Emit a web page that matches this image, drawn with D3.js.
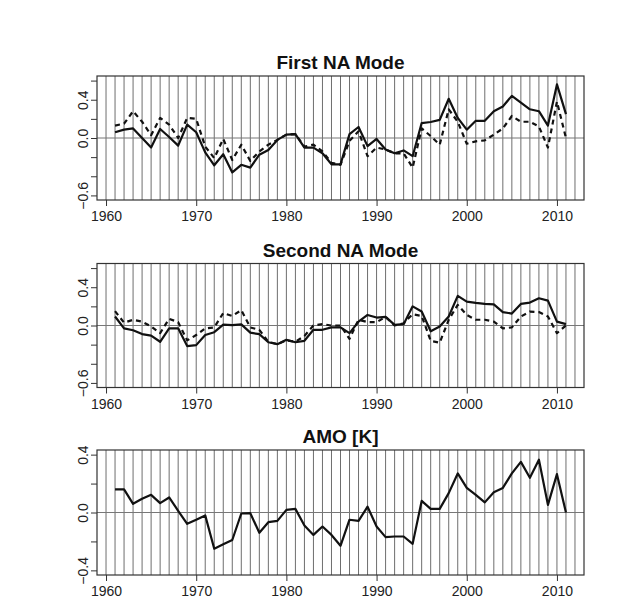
<!DOCTYPE html>
<html>
<head>
<meta charset="utf-8">
<script src="https://cdn.jsdelivr.net/npm/d3@7"></script>
<style>
  body { margin: 0; background: #fff; }
  svg { font-family: "Liberation Sans", Arial, sans-serif; }
</style>
</head>
<body>
<svg id="chart" width="644" height="614"></svg>
<script>
// years 1961..2011
var years = d3.range(1961, 2012);
var gridYears = d3.range(1960, 2013);
var xTicks = [1960, 1970, 1980, 1990, 2000, 2010];

var firstSolid = [0.06, 0.087, 0.10, 0.0, -0.10, 0.094, 0.01, -0.08, 0.14, 0.06,
  -0.15, -0.285, -0.17, -0.36, -0.28, -0.31, -0.175, -0.125, -0.02, 0.035,
  0.04, -0.10, -0.10, -0.16, -0.275, -0.275, 0.04, 0.115, -0.085, -0.01,
  -0.12, -0.16, -0.13, -0.19, 0.156, 0.167, 0.19, 0.41, 0.21, 0.087,
  0.18, 0.18, 0.28, 0.33, 0.44, 0.37, 0.30, 0.28, 0.13, 0.56,
  0.25];
var firstDashed = [0.13, 0.15, 0.28, 0.17, 0.03, 0.21, 0.14, 0.0, 0.21, 0.20,
  -0.09, -0.21, -0.01, -0.23, -0.07, -0.24, -0.14, -0.07, -0.02, 0.035,
  0.04, -0.09, -0.07, -0.14, -0.26, -0.28, -0.03, 0.07, -0.19, -0.10,
  -0.12, -0.16, -0.16, -0.31, 0.10, 0.02, -0.07, 0.30, 0.17, -0.06,
  -0.035, -0.025, 0.035, 0.10, 0.23, 0.17, 0.17, 0.12, -0.10, 0.38,
  0.0];
var secondSolid = [0.094, -0.03, -0.05, -0.09, -0.105, -0.17, -0.03, -0.03, -0.215, -0.205,
  -0.10, -0.07, 0.01, 0.004, 0.012, -0.075, -0.09, -0.175, -0.195, -0.15,
  -0.175, -0.16, -0.045, -0.045, -0.02, -0.02, -0.08, 0.04, 0.11, 0.083,
  0.09, 0.007, 0.014, 0.20, 0.146, -0.06, -0.01, 0.094, 0.31, 0.25,
  0.236, 0.226, 0.22, 0.14, 0.125, 0.226, 0.24, 0.285, 0.26, 0.04,
  0.014];
var secondDashed = [0.15, 0.03, 0.06, 0.04, -0.01, -0.08, 0.07, 0.035, -0.155, -0.10,
  -0.03, -0.02, 0.13, 0.10, 0.16, -0.02, -0.045, -0.17, -0.195, -0.155,
  -0.17, -0.11, 0.0, 0.014, 0.0, 0.0, -0.14, 0.06, 0.035, 0.035,
  0.09, 0.0, 0.024, 0.118, 0.10, -0.16, -0.18, 0.06, 0.215, 0.11,
  0.06, 0.06, 0.04, -0.03, -0.02, 0.094, 0.146, 0.14, 0.094, -0.08,
  0.0];
var amo = [0.16, 0.16, 0.06, 0.095, 0.122, 0.065, 0.104, 0.012, -0.078, -0.05,
  -0.02, -0.25, -0.22, -0.19, -0.007, -0.005, -0.14, -0.067, -0.058, 0.018,
  0.025, -0.09, -0.155, -0.097, -0.155, -0.23, -0.05, -0.058, 0.04, -0.097,
  -0.17, -0.166, -0.166, -0.217, 0.08, 0.025, 0.025, 0.134, 0.27, 0.17,
  0.122, 0.07, 0.14, 0.17, 0.27, 0.35, 0.24, 0.365, 0.053, 0.265,
  0.0];

var modeTicks = [-0.6, -0.4, -0.2, 0.0, 0.2, 0.4, 0.6];
var modeLabels = [-0.6, 0.0, 0.4];
var amoTicks = [-0.4, -0.2, 0.0, 0.2, 0.4];
var amoLabels = [-0.4, 0.0, 0.4];

var svg = d3.select('#chart');
svg.append('rect').attr('width', 644).attr('height', 614).attr('fill', '#fff');

var fmt = d3.format('.1f');

function drawPanel(title, top, bottom, ylim, ticks, labels, series)
{
  var x = d3.scaleLinear().domain([1959, 2013]).range([97, 584]);
  // R style 4% extension of ylim
  var pad = (ylim[1] - ylim[0]) * 0.04;
  var y = d3.scaleLinear().domain([ylim[0] - pad, ylim[1] + pad]).range([bottom, top]);

  var g = svg.append('g');

  // vertical year grid
  g.selectAll('.grid')
    .data(gridYears)
    .enter().append('line')
    .attr('x1', d => x(d)).attr('x2', d => x(d))
    .attr('y1', top).attr('y2', bottom)
    .attr('stroke', '#6e6e6e')
    .attr('stroke-width', 1);

  // zero line
  g.append('line')
    .attr('x1', x(1959)).attr('x2', x(2013))
    .attr('y1', y(0)).attr('y2', y(0))
    .attr('stroke', '#777')
    .attr('stroke-width', 1);

  var line = d3.line()
    .x((d, i) => x(years[i]))
    .y(d => y(d));

  series.forEach(s => {
    g.append('path')
      .attr('d', line(s.values))
      .attr('fill', 'none')
      .attr('stroke', '#111')
      .attr('stroke-width', 2.2)
      .attr('stroke-linejoin', 'round')
      .attr('stroke-dasharray', s.dashed ? '5,4' : null);
  });

  // box
  g.append('rect')
    .attr('x', x(1959)).attr('y', top)
    .attr('width', x(2013) - x(1959)).attr('height', bottom - top)
    .attr('fill', 'none')
    .attr('stroke', '#333')
    .attr('stroke-width', 1.2);

  var xAxis = g.append('g')
    .attr('transform', `translate(0,${bottom})`)
    .call(d3.axisBottom(x).tickValues(xTicks).tickSize(6).tickSizeOuter(0).tickFormat(d3.format('d')));
  xAxis.select('.domain').remove();
  xAxis.selectAll('line').attr('stroke', '#333');
  xAxis.selectAll('text')
    .attr('y', 21).attr('dy', null)
    .style('font-size', '14px')
    .attr('fill', '#222');

  var yAxis = g.append('g')
    .attr('transform', `translate(${x(1959)},0)`)
    .call(d3.axisLeft(y).tickValues(ticks).tickSize(6).tickSizeOuter(0)
      .tickFormat(d => labels.indexOf(d) >= 0 ? fmt(d) : ''));
  yAxis.select('.domain').remove();
  yAxis.selectAll('line').attr('stroke', '#333');
  yAxis.selectAll('text')
    .attr('x', null).attr('dy', null)
    .attr('transform', 'translate(-9.5,0) rotate(-90)')
    .attr('text-anchor', 'middle')
    .style('font-size', '14px')
    .attr('fill', '#222');

  g.append('text')
    .attr('x', (x(1959) + x(2013)) / 2)
    .attr('y', top - 6.7)
    .attr('text-anchor', 'middle')
    .style('font-size', '19px')
    .style('font-weight', 'bold')
    .attr('fill', '#111')
    .text(title);
}

drawPanel('First NA Mode', 76, 200, [-0.6, 0.6], modeTicks, modeLabels,
  [{values: firstSolid, dashed: false}, {values: firstDashed, dashed: true}]);
drawPanel('Second NA Mode', 263.5, 387.5, [-0.6, 0.6], modeTicks, modeLabels,
  [{values: secondSolid, dashed: false}, {values: secondDashed, dashed: true}]);
drawPanel('AMO [K]', 450, 575, [-0.4, 0.4], amoTicks, amoLabels,
  [{values: amo, dashed: false}]);
</script>
</body>
</html>
